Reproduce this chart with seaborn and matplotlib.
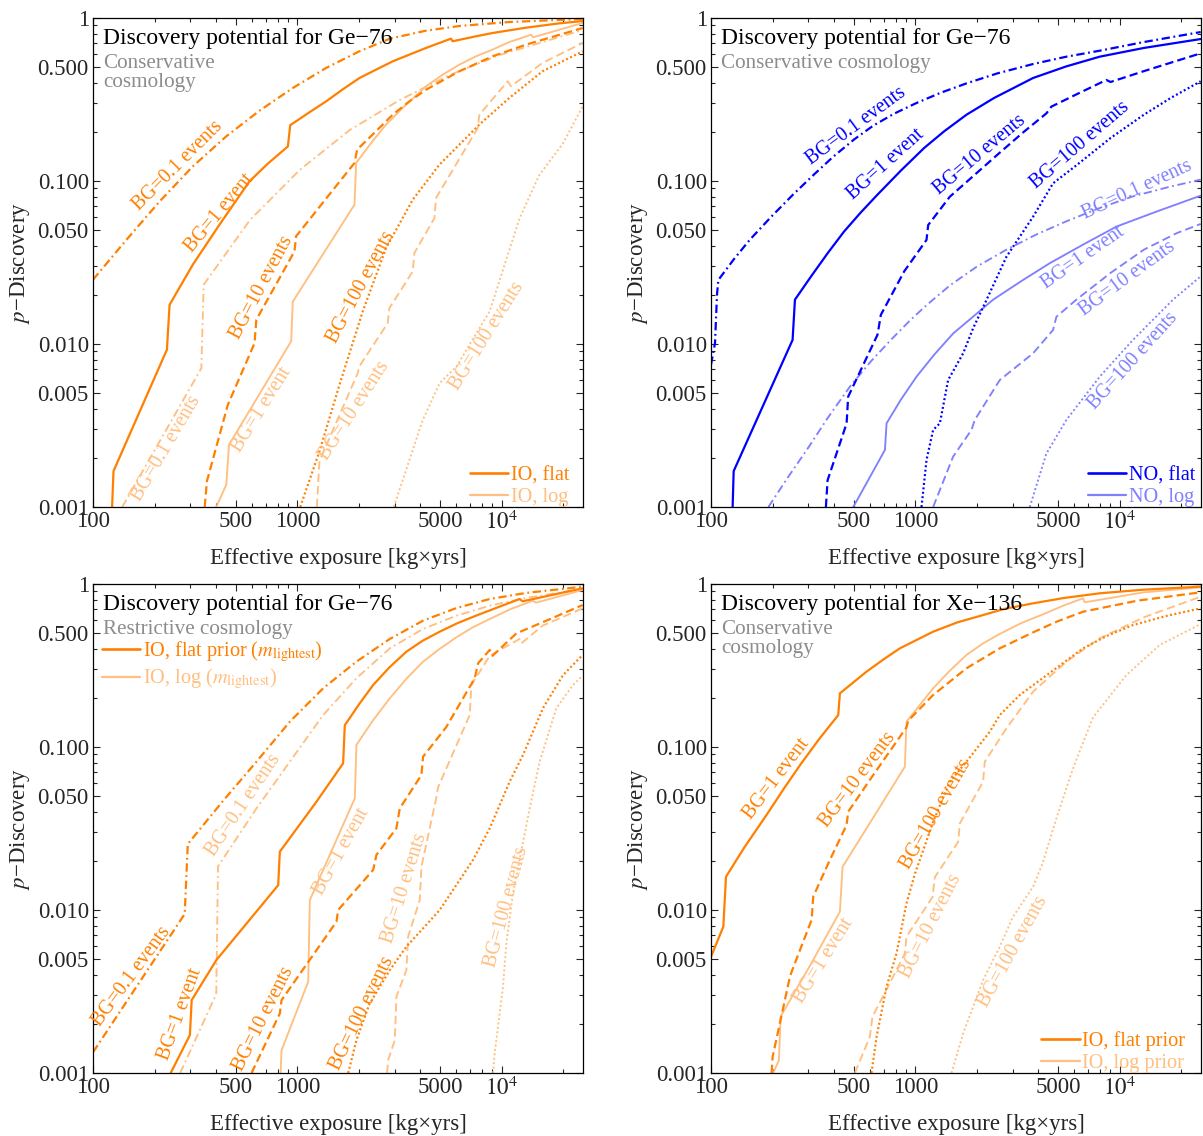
import matplotlib
matplotlib.use("Agg")
import matplotlib.pyplot as plt
import seaborn as sns
from matplotlib.lines import Line2D
from matplotlib.ticker import FixedLocator, FixedFormatter, NullFormatter

# ---------------- data ----------------
# Panel A: Ge-76, conservative cosmology, IO (flat = dark, log = light)
ge_cons_flat_01_x = [100, 146, 212, 308, 449, 653, 950, 1383, 2012, 2840, 4261, 6202, 10890, 24900]
ge_cons_flat_01_p = [0.0248, 0.0437, 0.075, 0.123, 0.188, 0.270, 0.372, 0.494, 0.625, 0.747, 0.836, 0.893, 0.945, 0.986]
ge_cons_flat_1_x = [124, 126, 230, 237, 308, 416, 583, 718, 899, 923, 1146, 1383, 1668, 2012, 2427, 2928, 3532, 4261, 5650, 5750, 7481, 9025, 13130, 19110, 24900]
ge_cons_flat_1_p = [0.001, 0.00166, 0.00923, 0.0174, 0.0307, 0.054, 0.0995, 0.128, 0.163, 0.22, 0.264, 0.308, 0.365, 0.428, 0.482, 0.542, 0.596, 0.655, 0.747, 0.72, 0.772, 0.809, 0.872, 0.927, 0.958]
ge_cons_flat_10_x = [352, 361, 457, 617, 630, 968, 986, 1904, 1962, 2427, 2928, 3532, 4261, 6202, 9025, 13130, 24900]
ge_cons_flat_10_p = [0.001, 0.00144, 0.00424, 0.0101, 0.0141, 0.037, 0.0458, 0.129, 0.156, 0.202, 0.255, 0.308, 0.363, 0.471, 0.582, 0.686, 0.868]
ge_cons_flat_100_x = [1033, 1282, 1607, 2091, 2718, 3671, 4958, 7776, 10890, 15840, 24900]
ge_cons_flat_100_p = [0.001, 0.00219, 0.00561, 0.0159, 0.0388, 0.0768, 0.126, 0.222, 0.323, 0.471, 0.625]
ge_cons_log_01_x = [139, 339, 348, 586, 1028, 1806, 3170, 5567, 9772, 24900]
ge_cons_log_01_p = [0.001, 0.0071, 0.0231, 0.0576, 0.117, 0.2055, 0.314, 0.447, 0.593, 0.844]
ge_cons_log_1_x = [401, 449, 463, 933, 950, 1904, 1940, 2296, 2718, 3406, 4261, 5141, 6202, 7481, 9025, 10890, 13960, 14230, 24900]
ge_cons_log_1_p = [0.001, 0.00137, 0.00241, 0.0104, 0.0182, 0.0716, 0.129, 0.171, 0.222, 0.294, 0.381, 0.449, 0.517, 0.582, 0.64, 0.712, 0.79, 0.761, 0.932]
ge_cons_log_10_x = [1246, 1283, 1976, 2012, 2770, 2822, 3672, 3741, 4686, 4774, 7630, 7776, 10700, 11110, 15840, 24900]
ge_cons_log_10_p = [0.001, 0.00191, 0.00664, 0.0073, 0.01345, 0.0166, 0.0279, 0.0362, 0.0592, 0.0787, 0.211, 0.255, 0.409, 0.381, 0.53, 0.703]
ge_cons_log_100_x = [2965, 4109, 4976, 6002, 8738, 12240, 15290, 19950, 24900]
ge_cons_log_100_p = [0.001, 0.00342, 0.00577, 0.00726, 0.0159, 0.0592, 0.109, 0.170, 0.287]

# Panel B: Ge-76, conservative cosmology, NO
no_flat_01_x = [100, 104.6, 107, 108.6, 130.1, 155.1, 196.5, 252.7, 320.1, 396.5, 502, 622, 787.6, 1013, 1332, 1779, 2522, 3769, 5485, 7984, 13130, 24900]
no_flat_01_p = [0.00747, 0.0101, 0.0201, 0.0247, 0.0334, 0.0437, 0.0601, 0.0828, 0.110, 0.141, 0.180, 0.2185, 0.259, 0.301, 0.348, 0.397, 0.4575, 0.522, 0.579, 0.630, 0.712, 0.82]
no_flat_1_x = [127.6, 129.1, 250.8, 257.5, 308.3, 371.9, 448.6, 541.2, 652.9, 848.9, 1104, 1383, 1779, 2427, 3769, 5485, 7984, 13130, 24900]
no_flat_1_p = [0.001, 0.00166, 0.0106, 0.0187, 0.0259, 0.036, 0.0491, 0.0642, 0.0825, 0.1157, 0.1594, 0.2017, 0.255, 0.323, 0.4285, 0.505, 0.579, 0.655, 0.743]
no_flat_10_x = [365, 372, 461, 469, 653, 678, 882, 1134, 1156, 1475, 1868, 2522, 3342, 4379, 4633, 6202, 8603, 9025, 13130, 19110, 24900]
no_flat_10_p = [0.001, 0.00146, 0.00326, 0.00475, 0.0114, 0.0151, 0.0279, 0.0435, 0.0537, 0.0801, 0.104, 0.145, 0.197, 0.260, 0.286, 0.342, 0.4166, 0.405, 0.472, 0.547, 0.607]
no_flat_100_x = [1072, 1134, 1222, 1318, 1447, 1714, 1918, 2228, 2791, 3769, 4721, 6202, 9025, 13130, 17760, 24900]
no_flat_100_p = [0.001, 0.00194, 0.00297, 0.00326, 0.00601, 0.00877, 0.0125, 0.0186, 0.0343, 0.0604, 0.0968, 0.126, 0.1836, 0.255, 0.323, 0.409]
no_log_01_x = [191, 237, 297, 372, 478, 606, 759, 950, 1134, 1491, 2012, 2791, 3958, 5485, 7984, 11620, 17110, 24900]
no_log_01_p = [0.001, 0.00151, 0.00228, 0.00351, 0.00547, 0.00783, 0.0106, 0.0141, 0.0173, 0.0231, 0.030, 0.0379, 0.0473, 0.0566, 0.0683, 0.0805, 0.0914, 0.102]
no_log_1_x = [497, 710, 723, 849, 1013, 1237, 1531, 1940, 2402, 3280, 4547, 6617, 9632, 15290, 24900]
no_log_1_p = [0.001, 0.00224, 0.00326, 0.00455, 0.0063, 0.0086, 0.0116, 0.0149, 0.0187, 0.0242, 0.0313, 0.0407, 0.0525, 0.0652, 0.0813]
no_log_10_x = [1222, 1531, 1882, 1954, 2589, 3769, 4721, 4902, 6139, 9025, 13130, 19110, 24900]
no_log_10_p = [0.001, 0.00204, 0.00297, 0.00342, 0.00601, 0.00877, 0.0122, 0.0147, 0.0187, 0.0273, 0.0379, 0.048, 0.0545]
no_log_100_x = [3630, 4379, 5485, 7984, 11620, 18230, 24900]
no_log_100_p = [0.001, 0.00213, 0.00342, 0.0063, 0.0106, 0.0187, 0.026]

# Panel C: Ge-76, restrictive cosmology, IO
ge_rest_flat_01_x = [100, 281, 291, 434, 631, 919, 1337, 1946, 2834, 4124, 6002, 8738, 13130, 24900]
ge_rest_flat_01_p = [0.00134, 0.00945, 0.0254, 0.0469, 0.0813, 0.143, 0.229, 0.334, 0.46, 0.596, 0.712, 0.809, 0.881, 0.963]
ge_rest_flat_1_x = [240, 298, 304, 402, 806, 821, 1241, 1675, 1707, 2012, 2349, 2822, 3418, 4109, 4976, 6092, 7481, 9560, 12240, 12670, 24900]
ge_rest_flat_1_p = [0.001, 0.00171, 0.0028, 0.00494, 0.0142, 0.0228, 0.0462, 0.0794, 0.136, 0.184, 0.24, 0.308, 0.3845, 0.449, 0.51, 0.576, 0.639, 0.719, 0.809, 0.783, 0.941]
ge_rest_flat_10_x = [597, 821, 837, 1554, 1584, 2349, 2439, 3054, 3171, 4047, 4124, 5343, 7379, 7662, 8738, 9025, 11800, 15840, 24900]
ge_rest_flat_10_p = [0.001, 0.00232, 0.0028, 0.00848, 0.01, 0.0176, 0.0218, 0.0317, 0.042, 0.0673, 0.0872, 0.132, 0.264, 0.326, 0.394, 0.363, 0.498, 0.582, 0.743]
ge_rest_flat_100_x = [1773, 1946, 2253, 2834, 3418, 4976, 7241, 8738, 10940, 12710, 15920, 19950, 24900]
ge_rest_flat_100_p = [0.001, 0.00159, 0.00265, 0.00428, 0.00596, 0.01, 0.0203, 0.0317, 0.0613, 0.0893, 0.173, 0.276, 0.367]
ge_rest_log_01_x = [267, 401, 409, 631, 919, 1337, 1946, 2834, 4124, 6002, 8738, 13130, 24900]
ge_rest_log_01_p = [0.001, 0.00305, 0.0185, 0.042, 0.0813, 0.157, 0.264, 0.403, 0.53, 0.639, 0.736, 0.821, 0.932]
ge_rest_log_1_x = [828, 837, 1130, 1151, 1910, 1946, 2340, 2834, 3406, 4124, 4957, 6002, 7214, 8738, 11110, 14230, 14710, 24900]
ge_rest_log_1_p = [0.001, 0.00138, 0.00363, 0.0115, 0.0484, 0.103, 0.145, 0.199, 0.261, 0.334, 0.399, 0.471, 0.542, 0.61, 0.703, 0.79, 0.768, 0.919]
ge_rest_log_10_x = [2750, 2781, 2998, 3054, 3418, 3483, 3972, 4047, 4792, 4883, 6975, 7108, 8738, 12240, 12480, 15840, 24900]
ge_rest_log_10_p = [0.001, 0.0012, 0.00159, 0.00294, 0.00428, 0.00686, 0.0115, 0.0184, 0.0491, 0.0566, 0.157, 0.24, 0.363, 0.46, 0.4325, 0.555, 0.709]
ge_rest_log_100_x = [9071, 9240, 10150, 10540, 11360, 12240, 13710, 15340, 18510, 22330, 24900]
ge_rest_log_100_p = [0.001, 0.00132, 0.00339, 0.00624, 0.0127, 0.0203, 0.042, 0.0813, 0.173, 0.24, 0.274]

# Panel D: Xe-136, conservative cosmology, IO
xe_flat_1_x = [100, 114.9, 118.4, 145.6, 187, 228.4, 275, 338.5, 419.5, 427.4, 577, 704, 840, 1222, 1608, 2146, 2719, 3769, 5343, 7984, 13130, 24900]
xe_flat_1_p = [0.00517, 0.0079, 0.016, 0.0242, 0.0383, 0.056, 0.0786, 0.112, 0.157, 0.2134, 0.29, 0.347, 0.403, 0.51, 0.582, 0.645, 0.703, 0.761, 0.821, 0.877, 0.923, 0.963]
xe_flat_10_x = [198, 200.3, 243.4, 248, 310.7, 316.5, 381.9, 460.7, 469.4, 622, 905, 923, 1222, 1779, 2589, 3769, 4957, 6617, 12200, 24900]
xe_flat_10_p = [0.001, 0.00126, 0.0039, 0.00418, 0.00869, 0.0121, 0.0203, 0.0332, 0.0401, 0.0673, 0.132, 0.145, 0.2085, 0.304, 0.403, 0.505, 0.59, 0.676, 0.79, 0.889]
xe_flat_100_x = [610, 646, 723, 809, 905, 994, 1105, 1222, 1475, 1779, 2314, 2589, 3243, 4261, 6617, 8706, 11620, 17100, 24900]
xe_flat_100_p = [0.001, 0.00167, 0.00339, 0.00542, 0.011, 0.0166, 0.0242, 0.0348, 0.0613, 0.0813, 0.124, 0.157, 0.2085, 0.268, 0.403, 0.482, 0.56, 0.639, 0.709]
xe_log_1_x = [201.7, 215, 219.1, 308.3, 427.4, 440.4, 888.8, 905, 1222, 1475, 1779, 2146, 2589, 3280, 4261, 5343, 6617, 6743, 13130, 24900]
xe_log_1_p = [0.001, 0.0012, 0.00222, 0.00466, 0.00977, 0.0184, 0.0757, 0.143, 0.229, 0.294, 0.367, 0.4325, 0.494, 0.574, 0.655, 0.74, 0.817, 0.772, 0.889, 0.954]
xe_log_10_x = [506, 599, 617, 745, 889, 905, 1213, 1246, 1620, 1651, 2146, 2187, 2791, 3769, 5485, 7984, 13130, 24900]
xe_log_10_p = [0.001, 0.00167, 0.00222, 0.0035, 0.00542, 0.00686, 0.012, 0.0159, 0.0262, 0.034, 0.0613, 0.0813, 0.130, 0.2185, 0.334, 0.464, 0.625, 0.836]
xe_log_100_x = [1503, 1714, 2146, 2589, 3008, 3769, 4186, 4902, 5912, 7406, 10780, 15690, 24900]
xe_log_100_p = [0.001, 0.00175, 0.00372, 0.00596, 0.0091, 0.0139, 0.0192, 0.0365, 0.074, 0.152, 0.276, 0.4225, 0.568]

# ticks
ytick_values = [0.001, 0.005, 0.01, 0.05, 0.1, 0.5, 1]
ytick_labels = ["0.001", "0.005", "0.010", "0.050", "0.100", "0.500", "1"]
xtick_values = [100, 500, 1000, 5000, 10000]
xtick_labels = ["100", "500", "1000", "5000", r"$10^4$"]

# ---------------- style ----------------
sns.set_style("ticks")
plt.rcParams.update({
    "font.family": ["Liberation Serif", "DejaVu Serif"],
    "mathtext.fontset": "stix",
    "lines.scale_dashes": False,
    "lines.dash_capstyle": "butt",
    "lines.solid_joinstyle": "round",
    "axes.linewidth": 0.9,
    "axes.edgecolor": "black",
})

ORANGE = "#FF8000"
LORANGE = "#FFBF80"
BLUE = "#0000FF"
LBLUE = "#8080FF"
GRAY = "#8C8C8C"

LS = {
    "01": (0, (6.0, 2.6, 1.3, 2.6)),
    "1": "-",
    "10": (0, (6.0, 3.0)),
    "100": (0, (1.4, 1.8)),
}

TICK_FS = 16.5
TITLE_FS = 17.0
SUB_FS = 15.2
LAB_FS = 14.2
LEG_FS = 14.6

W, H = 1203, 1136
fig = plt.figure(figsize=(W / 100, H / 100), dpi=100)
aw, ah = 490 / W, 489 / H
ax_tl = fig.add_axes([93 / W, 1 - 507 / H, aw, ah])
ax_tr = fig.add_axes([711 / W, 1 - 507 / H, aw, ah])
ax_bl = fig.add_axes([93 / W, 1 - 1073 / H, aw, ah])
ax_br = fig.add_axes([711 / W, 1 - 1073 / H, aw, ah])

minor_x = [m * 10 ** e for e in (2, 3, 4) for m in range(2, 10) if m * 10 ** e <= 25000 and not (m == 5)]
minor_y = [m * 10.0 ** e for e in (-3, -2, -1) for m in range(2, 10) if m != 5]


def setup_axes(ax):
    ax.set_xscale("log")
    ax.set_yscale("log")
    ax.set_xlim(100, 25000)
    ax.set_ylim(0.001, 1)
    ax.xaxis.set_major_locator(FixedLocator(xtick_values))
    ax.xaxis.set_major_formatter(FixedFormatter(xtick_labels))
    ax.xaxis.set_minor_locator(FixedLocator(minor_x))
    ax.xaxis.set_minor_formatter(NullFormatter())
    ax.yaxis.set_major_locator(FixedLocator(ytick_values))
    ax.yaxis.set_major_formatter(FixedFormatter(ytick_labels))
    ax.yaxis.set_minor_locator(FixedLocator(minor_y))
    ax.yaxis.set_minor_formatter(NullFormatter())
    ax.tick_params(which="both", direction="in", top=True, right=True, labelsize=TICK_FS, pad=3, width=0.8)
    ax.tick_params(which="major", length=5)
    ax.tick_params(which="minor", length=2.8)
    ax.set_xlabel("Effective exposure [kg×yrs]", fontsize=TICK_FS, labelpad=10)
    ax.set_ylabel(r"$p$−Discovery", fontsize=TICK_FS, labelpad=4)
    for s in ax.spines.values():
        s.set_color("black")


def curve(ax, x, p, color, key, lw):
    sns.lineplot(x=x, y=p, ax=ax, color=color, linestyle=LS[key], linewidth=lw,
                 sort=False, estimator=None, legend=False)


def label(ax, fx, fy, text, color, rot):
    ax.text(fx, fy, text, transform=ax.transAxes, color=color, fontsize=LAB_FS,
            rotation=rot, rotation_mode="anchor", ha="center", va="center")


def titles(ax, title, sub_lines):
    ax.text(0.02, 0.947, title, transform=ax.transAxes, fontsize=TITLE_FS, color="black", va="baseline", ha="left")
    ys = [0.898, 0.859]
    for s, y in zip(sub_lines, ys):
        ax.text(0.02, y, s, transform=ax.transAxes, fontsize=SUB_FS, color=GRAY, va="baseline", ha="left")


def legend(ax, labels, colors, loc, bbox):
    handles = [Line2D([], [], color=c, lw=lw) for c, lw in zip(colors, (1.9, 1.6))]
    leg = ax.legend(handles, labels, loc=loc, bbox_to_anchor=bbox, frameon=False, fontsize=LEG_FS,
                    handlelength=1.9, handletextpad=0.12, labelspacing=0.12, borderpad=0.0, borderaxespad=0.0)
    for t, c in zip(leg.get_texts(), colors):
        t.set_color(c)


DLW, LLW = 1.6, 1.35

# ---- Panel A ----
ax = ax_tl
setup_axes(ax)
curve(ax, ge_cons_log_01_x, ge_cons_log_01_p, LORANGE, "01", LLW)
curve(ax, ge_cons_log_1_x, ge_cons_log_1_p, LORANGE, "1", LLW)
curve(ax, ge_cons_log_10_x, ge_cons_log_10_p, LORANGE, "10", LLW)
curve(ax, ge_cons_log_100_x, ge_cons_log_100_p, LORANGE, "100", LLW)
curve(ax, ge_cons_flat_01_x, ge_cons_flat_01_p, ORANGE, "01", DLW)
curve(ax, ge_cons_flat_1_x, ge_cons_flat_1_p, ORANGE, "1", DLW)
curve(ax, ge_cons_flat_10_x, ge_cons_flat_10_p, ORANGE, "10", DLW)
curve(ax, ge_cons_flat_100_x, ge_cons_flat_100_p, ORANGE, "100", DLW)
titles(ax, "Discovery potential for Ge−76", ["Conservative", "cosmology"])
label(ax, 0.173, 0.697, "BG=0.1 events", ORANGE, 45)
label(ax, 0.259, 0.600, "BG=1 event", ORANGE, 50)
label(ax, 0.344, 0.448, "BG=10 events", ORANGE, 62)
label(ax, 0.548, 0.450, "BG=100 events", ORANGE, 62)
label(ax, 0.150, 0.119, "BG=0.1 events", LORANGE, 59.5)
label(ax, 0.345, 0.198, "BG=1 event", LORANGE, 58)
label(ax, 0.534, 0.196, "BG=10 events", LORANGE, 57)
label(ax, 0.804, 0.349, "BG=100 events", LORANGE, 58)
legend(ax, ["IO, flat", "IO, log"], [ORANGE, LORANGE], "lower right", (0.972, 0.0))

# ---- Panel B ----
ax = ax_tr
setup_axes(ax)
curve(ax, no_log_01_x, no_log_01_p, LBLUE, "01", LLW)
curve(ax, no_log_1_x, no_log_1_p, LBLUE, "1", LLW)
curve(ax, no_log_10_x, no_log_10_p, LBLUE, "10", LLW)
curve(ax, no_log_100_x, no_log_100_p, LBLUE, "100", LLW)
curve(ax, no_flat_01_x, no_flat_01_p, BLUE, "01", DLW)
curve(ax, no_flat_1_x, no_flat_1_p, BLUE, "1", DLW)
curve(ax, no_flat_10_x, no_flat_10_p, BLUE, "10", DLW)
curve(ax, no_flat_100_x, no_flat_100_p, BLUE, "100", DLW)
titles(ax, "Discovery potential for Ge−76", ["Conservative cosmology"])
label(ax, 0.297, 0.778, "BG=0.1 events", BLUE, 36.4)
label(ax, 0.357, 0.700, "BG=1 event", BLUE, 42)
label(ax, 0.549, 0.719, "BG=10 events", BLUE, 40)
label(ax, 0.753, 0.740, "BG=100 events", BLUE, 40.7)
label(ax, 0.869, 0.649, "BG=0.1 events", LBLUE, 24.8)
label(ax, 0.760, 0.509, "BG=1 event", LBLUE, 34.8)
label(ax, 0.850, 0.467, "BG=10 events", LBLUE, 36.2)
label(ax, 0.861, 0.298, "BG=100 events", LBLUE, 48)
legend(ax, ["NO, flat", "NO, log"], [BLUE, LBLUE], "lower right", (0.988, 0.0))

# ---- Panel C ----
ax = ax_bl
setup_axes(ax)
curve(ax, ge_rest_log_01_x, ge_rest_log_01_p, LORANGE, "01", LLW)
curve(ax, ge_rest_log_1_x, ge_rest_log_1_p, LORANGE, "1", LLW)
curve(ax, ge_rest_log_10_x, ge_rest_log_10_p, LORANGE, "10", LLW)
curve(ax, ge_rest_log_100_x, ge_rest_log_100_p, LORANGE, "100", LLW)
curve(ax, ge_rest_flat_01_x, ge_rest_flat_01_p, ORANGE, "01", DLW)
curve(ax, ge_rest_flat_1_x, ge_rest_flat_1_p, ORANGE, "1", DLW)
curve(ax, ge_rest_flat_10_x, ge_rest_flat_10_p, ORANGE, "10", DLW)
curve(ax, ge_rest_flat_100_x, ge_rest_flat_100_p, ORANGE, "100", DLW)
titles(ax, "Discovery potential for Ge−76", ["Restrictive cosmology"])
label(ax, 0.078, 0.198, "BG=0.1 events", ORANGE, 53.6)
label(ax, 0.178, 0.121, "BG=1 event", ORANGE, 70)
label(ax, 0.348, 0.110, "BG=10 events", ORANGE, 63.4)
label(ax, 0.549, 0.121, "BG=100 events", ORANGE, 64)
label(ax, 0.307, 0.547, "BG=0.1 events", LORANGE, 56)
label(ax, 0.508, 0.453, "BG=1 event", LORANGE, 61)
label(ax, 0.637, 0.378, "BG=10 events", LORANGE, 72.7)
label(ax, 0.844, 0.339, "BG=100 events", LORANGE, 75)
legend(ax, [r"IO, flat prior ($m_{\mathrm{lightest}}$)", r"IO, log ($m_{\mathrm{lightest}}$)"],
       [ORANGE, LORANGE], "upper left", (0.018, 0.887))

# ---- Panel D ----
ax = ax_br
setup_axes(ax)
curve(ax, xe_log_1_x, xe_log_1_p, LORANGE, "1", LLW)
curve(ax, xe_log_10_x, xe_log_10_p, LORANGE, "10", LLW)
curve(ax, xe_log_100_x, xe_log_100_p, LORANGE, "100", LLW)
curve(ax, xe_flat_1_x, xe_flat_1_p, ORANGE, "1", DLW)
curve(ax, xe_flat_10_x, xe_flat_10_p, ORANGE, "10", DLW)
curve(ax, xe_flat_100_x, xe_flat_100_p, ORANGE, "100", DLW)
titles(ax, "Discovery potential for Xe−136", ["Conservative", "cosmology"])
label(ax, 0.134, 0.601, "BG=1 event", ORANGE, 52.7)
label(ax, 0.299, 0.600, "BG=10 events", ORANGE, 53)
label(ax, 0.459, 0.530, "BG=100 events", ORANGE, 60)
label(ax, 0.231, 0.230, "BG=1 event", LORANGE, 58)
label(ax, 0.449, 0.300, "BG=10 events", LORANGE, 63)
label(ax, 0.617, 0.249, "BG=100 events", LORANGE, 61)
legend(ax, ["IO, flat prior", "IO, log prior"], [ORANGE, LORANGE], "lower right", (0.968, 0.0))

fig.savefig("out.png", dpi=100)
